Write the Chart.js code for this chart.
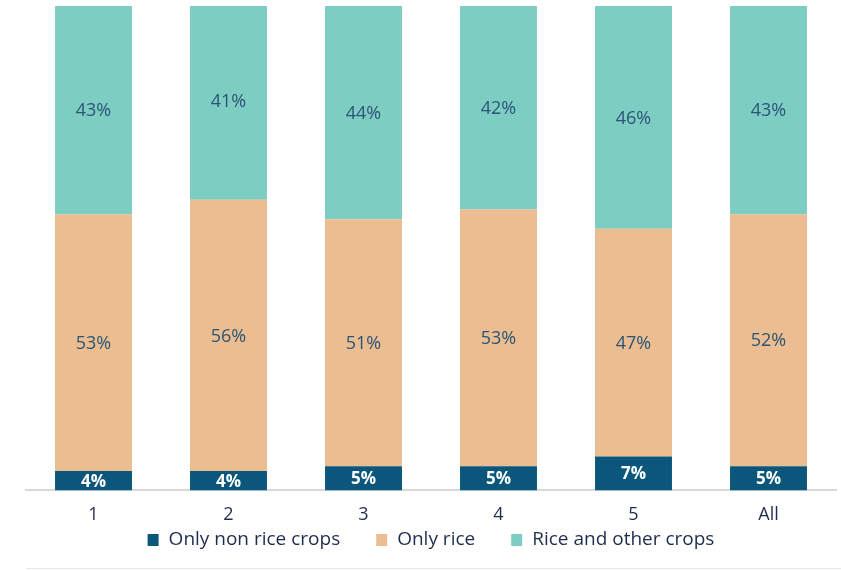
<!DOCTYPE html>
<html>
<head>
<meta charset="utf-8">
<script src="https://cdn.jsdelivr.net/npm/chart.js@4"></script>
<style>
  html, body { margin: 0; padding: 0; background: #ffffff; }
  #wrap { width: 841px; height: 570px; position: relative; }
</style>
</head>
<body>
<div id="wrap"><canvas id="c" width="841" height="570"></canvas></div>
<script>
// Share of farms by crop pattern, per group
const categories = ['1', '2', '3', '4', '5', 'All'];
const onlyNonRice = [4, 4, 5, 5, 7, 5];
const onlyRice = [53, 56, 51, 53, 47, 52];
const riceAndOther = [43, 41, 44, 42, 46, 43];

const seriesNames = ['Only non rice crops', 'Only rice', 'Rice and other crops'];
const colors = ['#0b577c', '#ebbd90', '#7ecdc3'];
const labelColors = ['#ffffff', '#2a5576', '#2a5576'];
const textColor = '#1f2d4d';
const FONT = '"Open Sans"';

// Writes each value inside its segment
const segmentLabels = {
  id: 'segmentLabels',
  afterDatasetsDraw(chart) {
    const ctx = chart.ctx;
    ctx.save();
    ctx.textAlign = 'center';
    ctx.textBaseline = 'middle';
    chart.data.datasets.forEach((ds, di) => {
      const meta = chart.getDatasetMeta(di);
      meta.data.forEach((bar, i) => {
        const v = ds.data[i];
        const p = bar.getProps(['x', 'y', 'base'], true);
        ctx.fillStyle = labelColors[di];
        ctx.font = (di === 0 ? 'bold 17px ' : '18px ') + FONT;
        ctx.fillText(v + '%', p.x, (p.y + p.base) / 2 + 1);
      });
    });
    ctx.restore();
  }
};

// Legend row centred under the plot, plus a thin rule at the bottom edge
const legendRow = {
  id: 'legendRow',
  afterDraw(chart) {
    const ctx = chart.ctx;
    const area = chart.chartArea;
    const box = 11, gapText = 10, gapItem = 36, y = 540;
    ctx.save();
    ctx.font = '19px ' + FONT;
    const items = chart.data.datasets.map(ds => ({
      text: ds.label, color: ds.backgroundColor, w: ctx.measureText(ds.label).width
    }));
    const total = items.reduce((s, it) => s + box + gapText + it.w, 0) + gapItem * (items.length - 1);
    let x = (area.left + area.right) / 2 - total / 2;
    ctx.textBaseline = 'middle';
    ctx.textAlign = 'left';
    items.forEach(it => {
      ctx.fillStyle = it.color;
      ctx.fillRect(x, y - 6, box, 12);
      ctx.fillStyle = textColor;
      ctx.fillText(it.text, x + box + gapText, y);
      x += box + gapText + it.w + gapItem;
    });
    ctx.strokeStyle = '#e6e6e6';
    ctx.lineWidth = 1;
    ctx.beginPath();
    ctx.moveTo(area.left, 568.5);
    ctx.lineTo(chart.width, 568.5);
    ctx.stroke();
    ctx.restore();
  }
};

const values = [onlyNonRice, onlyRice, riceAndOther];

new Chart(document.getElementById('c'), {
  type: 'bar',
  data: {
    labels: categories,
    datasets: values.map((d, i) => ({
      label: seriesNames[i],
      data: d,
      backgroundColor: colors[i],
      borderWidth: 0,
      categoryPercentage: 1,
      barPercentage: 0.57
    }))
  },
  options: {
    responsive: false,
    animation: false,
    layout: { padding: { top: 6, left: 26, right: 5, bottom: 30 } },
    plugins: {
      legend: { display: false },
      tooltip: { enabled: false }
    },
    scales: {
      x: {
        stacked: true,
        grid: { display: false, drawTicks: false },
        border: { color: '#d9d9d9', width: 2 },
        ticks: { color: textColor, font: { family: FONT, size: 18 }, padding: 14 }
      },
      y: {
        stacked: true,
        display: false,
        min: 0,
        max: 100
      }
    }
  },
  plugins: [segmentLabels, legendRow]
});
</script>
</body>
</html>
